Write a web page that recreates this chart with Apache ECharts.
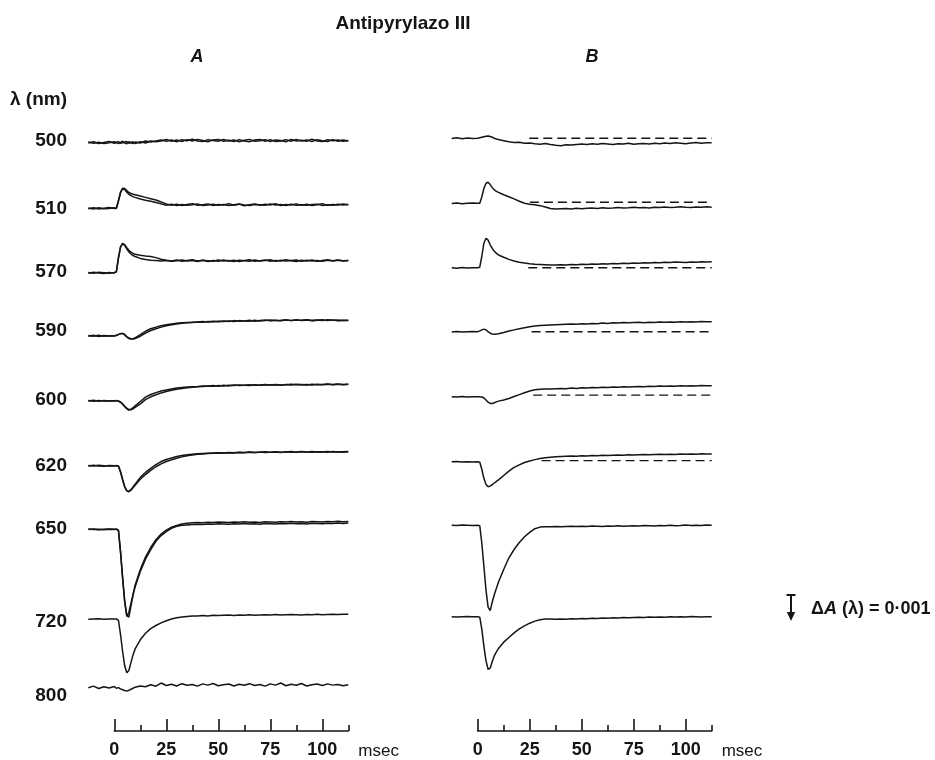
<!DOCTYPE html>
<html>
<head>
<meta charset="utf-8">
<script src="https://cdn.jsdelivr.net/npm/echarts@6/dist/echarts.min.js"></script>
<style>
  html, body { margin: 0; padding: 0; background: #fff; }
  #chart { width: 935px; height: 760px; }
</style>
</head>
<body>
<div id="chart"></div>
<script>
// Absorbance changes of Antipyrylazo III after a stimulus at t = 0.
// Values are ΔA in units of 0.001 (positive = absorbance increase, drawn downward).

const timeMs = [-12.5, -10, -7.5, -5, -2.5,
  0, 1, 2, 3, 4, 5, 6, 7, 8, 9, 10,
  12.5, 15, 17.5, 20, 22.5,
  25, 27.5, 30, 32.5, 35, 37.5, 40, 42.5, 45,
  47.5, 50, 52.5, 55, 57.5, 60, 62.5, 65, 67.5,
  70, 72.5, 75, 77.5, 80, 82.5, 85, 87.5, 90,
  92.5, 95, 97.5, 100, 102.5, 105, 107.5, 110, 112.5];

const wavelengths = [500, 510, 570, 590, 600, 620, 650, 720, 800];
const majorTicks = [0, 25, 50, 75, 100];
const minorTicks = [12.5, 37.5, 62.5, 87.5, 112.5];
const scaleBarDeltaA = 1; // 0.001

// ---- Panel A: superimposed records ----
const a500_1 = [0.02, -0.03, 0.04, 0.00, -0.04,
  0.03, -0.02, 0.04, 0.00, -0.05, 0.02, 0.05, -0.03, 0.01, 0.04, -0.02,
  0.02, -0.06, -0.02, -0.06, -0.10,
  -0.05, -0.10, -0.03, -0.11, -0.07, -0.13, -0.06, -0.04, -0.11,
  -0.08, -0.05, -0.12, -0.06, -0.10, -0.03, -0.09, -0.12, -0.05,
  -0.07, -0.11, -0.04, -0.10, -0.08, -0.03, -0.12, -0.06, -0.09,
  -0.05, -0.13, -0.06, -0.04, -0.11, -0.07, -0.10, -0.05, -0.08];
const a500_2 = [-0.02, 0.03, -0.01, 0.04, 0.01,
  -0.03, 0.02, -0.04, 0.03, 0.01, -0.02, -0.04, 0.03, 0.00, -0.03, 0.04,
  -0.03, 0.02, -0.06, -0.03, -0.06,
  -0.12, -0.05, -0.10, -0.04, -0.11, -0.06, -0.12, -0.08, -0.03,
  -0.10, -0.12, -0.05, -0.09, -0.04, -0.11, -0.06, -0.03, -0.10,
  -0.12, -0.05, -0.11, -0.04, -0.06, -0.11, -0.05, -0.12, -0.06,
  -0.10, -0.04, -0.11, -0.07, -0.04, -0.11, -0.05, -0.10, -0.06];
const a510_1 = [0.02, -0.02, 0.03, 0.00, -0.03,
  0.01, 0.00, -0.30, -0.62, -0.77, -0.76, -0.68, -0.61, -0.57, -0.54, -0.52,
  -0.47, -0.42, -0.37, -0.32, -0.24,
  -0.17, -0.12, -0.16, -0.11, -0.15, -0.18, -0.12, -0.14, -0.17,
  -0.11, -0.15, -0.13, -0.18, -0.12, -0.16, -0.10, -0.14, -0.17,
  -0.12, -0.16, -0.13, -0.18, -0.11, -0.15, -0.13, -0.17, -0.12,
  -0.16, -0.11, -0.14, -0.18, -0.12, -0.15, -0.13, -0.17, -0.14];
const a510_2 = [-0.01, 0.03, -0.02, 0.02, 0.01,
  -0.02, 0.01, -0.28, -0.60, -0.76, -0.72, -0.62, -0.54, -0.49, -0.45, -0.42,
  -0.36, -0.31, -0.27, -0.22, -0.17,
  -0.12, -0.16, -0.11, -0.15, -0.12, -0.14, -0.17, -0.11, -0.13,
  -0.16, -0.12, -0.15, -0.11, -0.14, -0.17, -0.13, -0.11, -0.15,
  -0.14, -0.12, -0.17, -0.13, -0.15, -0.11, -0.16, -0.12, -0.14,
  -0.12, -0.15, -0.16, -0.11, -0.14, -0.12, -0.16, -0.13, -0.15];
const a570_1 = [0.02, -0.02, 0.01, 0.03, -0.01,
  0.01, -0.05, -0.60, -1.00, -1.13, -1.08, -0.96, -0.86, -0.79, -0.74, -0.71,
  -0.67, -0.64, -0.62, -0.58, -0.52,
  -0.48, -0.45, -0.49, -0.44, -0.47, -0.50, -0.45, -0.48, -0.43,
  -0.47, -0.44, -0.49, -0.45, -0.48, -0.43, -0.47, -0.50, -0.44,
  -0.46, -0.49, -0.44, -0.47, -0.45, -0.50, -0.46, -0.43, -0.48,
  -0.45, -0.49, -0.44, -0.47, -0.50, -0.45, -0.48, -0.46, -0.47];
const a570_2 = [-0.01, 0.02, -0.02, 0.00, 0.02,
  -0.01, -0.03, -0.55, -0.97, -1.12, -1.05, -0.92, -0.80, -0.72, -0.66, -0.62,
  -0.55, -0.51, -0.48, -0.47, -0.45,
  -0.47, -0.44, -0.46, -0.49, -0.45, -0.47, -0.43, -0.48, -0.46,
  -0.44, -0.49, -0.45, -0.47, -0.43, -0.48, -0.46, -0.44, -0.49,
  -0.45, -0.47, -0.50, -0.44, -0.48, -0.45, -0.47, -0.49, -0.44,
  -0.48, -0.45, -0.47, -0.44, -0.48, -0.46, -0.49, -0.45, -0.47];
const a590_1 = [0.02, -0.02, 0.03, -0.01, 0.01,
  0.00, -0.02, -0.05, -0.08, -0.08, -0.03, 0.05, 0.11, 0.13, 0.12, 0.08,
  -0.04, -0.17, -0.27, -0.33, -0.38,
  -0.42, -0.45, -0.48, -0.50, -0.51, -0.52, -0.53, -0.55, -0.53,
  -0.56, -0.54, -0.57, -0.55, -0.58, -0.56, -0.57, -0.59, -0.56,
  -0.58, -0.60, -0.57, -0.59, -0.57, -0.60, -0.58, -0.61, -0.58,
  -0.60, -0.57, -0.59, -0.61, -0.58, -0.60, -0.57, -0.59, -0.58];
const a590_2 = [-0.01, 0.02, -0.02, 0.02, 0.00,
  0.01, -0.01, -0.04, -0.07, -0.09, -0.05, 0.03, 0.09, 0.12, 0.13, 0.11,
  0.02, -0.10, -0.20, -0.27, -0.33,
  -0.38, -0.42, -0.45, -0.48, -0.50, -0.51, -0.53, -0.52, -0.55,
  -0.54, -0.56, -0.55, -0.57, -0.55, -0.58, -0.57, -0.56, -0.59,
  -0.57, -0.58, -0.60, -0.58, -0.59, -0.61, -0.58, -0.60, -0.59,
  -0.61, -0.59, -0.60, -0.58, -0.61, -0.59, -0.60, -0.58, -0.59];
const a600_1 = [0.01, -0.02, 0.02, -0.01, 0.01,
  0.00, 0.00, 0.02, 0.06, 0.14, 0.23, 0.31, 0.36, 0.33, 0.27, 0.20,
  0.03, -0.14, -0.24, -0.31, -0.37,
  -0.41, -0.45, -0.49, -0.51, -0.53, -0.54, -0.55, -0.57, -0.56,
  -0.58, -0.56, -0.59, -0.57, -0.60, -0.58, -0.59, -0.61, -0.59,
  -0.60, -0.62, -0.60, -0.61, -0.59, -0.62, -0.60, -0.63, -0.61,
  -0.62, -0.60, -0.63, -0.61, -0.64, -0.62, -0.63, -0.61, -0.63];
const a600_2 = [-0.01, 0.02, -0.01, 0.01, 0.00,
  0.01, -0.01, 0.01, 0.05, 0.12, 0.21, 0.29, 0.34, 0.35, 0.31, 0.26,
  0.12, -0.04, -0.15, -0.23, -0.30,
  -0.35, -0.40, -0.44, -0.47, -0.50, -0.52, -0.54, -0.55, -0.57,
  -0.56, -0.58, -0.57, -0.59, -0.58, -0.60, -0.59, -0.58, -0.61,
  -0.59, -0.61, -0.60, -0.62, -0.60, -0.61, -0.63, -0.61, -0.62,
  -0.60, -0.63, -0.61, -0.62, -0.63, -0.61, -0.64, -0.62, -0.63];
const a620_1 = [0.01, -0.02, 0.01, 0.02, -0.01,
  0.00, 0.00, 0.02, 0.25, 0.55, 0.82, 0.97, 1.00, 0.92, 0.82, 0.71,
  0.45, 0.26, 0.10, -0.04, -0.16,
  -0.24, -0.30, -0.35, -0.39, -0.42, -0.44, -0.46, -0.47, -0.48,
  -0.49, -0.50, -0.49, -0.51, -0.50, -0.52, -0.51, -0.53, -0.51,
  -0.52, -0.54, -0.52, -0.53, -0.51, -0.54, -0.52, -0.53, -0.55,
  -0.53, -0.52, -0.54, -0.53, -0.55, -0.53, -0.54, -0.52, -0.54];
const a620_2 = [-0.01, 0.01, -0.02, 0.00, 0.01,
  0.01, -0.01, 0.01, 0.22, 0.52, 0.80, 0.96, 0.99, 0.94, 0.85, 0.75,
  0.52, 0.34, 0.18, 0.04, -0.07,
  -0.16, -0.23, -0.29, -0.34, -0.38, -0.41, -0.44, -0.45, -0.47,
  -0.48, -0.49, -0.48, -0.50, -0.49, -0.51, -0.50, -0.52, -0.51,
  -0.53, -0.51, -0.52, -0.54, -0.52, -0.53, -0.55, -0.52, -0.54,
  -0.53, -0.55, -0.53, -0.54, -0.52, -0.55, -0.53, -0.54, -0.55];
const a650_1 = [0.01, -0.01, 0.02, 0.00, -0.01,
  0.00, 0.00, 0.05, 0.90, 1.90, 2.80, 3.35, 3.20, 2.85, 2.50, 2.22,
  1.62, 1.15, 0.78, 0.46, 0.24,
  0.09, -0.04, -0.12, -0.16, -0.17, -0.18, -0.19, -0.18, -0.20,
  -0.19, -0.21, -0.20, -0.19, -0.21, -0.20, -0.22, -0.20, -0.21,
  -0.19, -0.22, -0.21, -0.20, -0.22, -0.21, -0.23, -0.21, -0.22,
  -0.20, -0.23, -0.22, -0.21, -0.23, -0.22, -0.24, -0.22, -0.24];
const a650_2 = [-0.01, 0.01, 0.00, 0.02, 0.00,
  0.01, -0.01, 0.03, 0.85, 1.85, 2.75, 3.30, 3.38, 2.95, 2.55, 2.15,
  1.55, 1.07, 0.70, 0.40, 0.18,
  0.03, -0.08, -0.15, -0.20, -0.23, -0.25, -0.26, -0.25, -0.27,
  -0.26, -0.28, -0.27, -0.26, -0.28, -0.27, -0.29, -0.27, -0.28,
  -0.26, -0.29, -0.28, -0.27, -0.29, -0.28, -0.30, -0.28, -0.29,
  -0.27, -0.30, -0.29, -0.28, -0.30, -0.29, -0.31, -0.29, -0.30];
const a720 = [0.01, 0.00, -0.01, 0.01, 0.00,
  0.00, 0.00, 0.05, 0.60, 1.25, 1.80, 2.07, 1.98, 1.68, 1.38, 1.15,
  0.80, 0.55, 0.37, 0.25, 0.15,
  0.07, 0.00, -0.05, -0.08, -0.10, -0.12, -0.12, -0.13, -0.12,
  -0.14, -0.13, -0.14, -0.15, -0.13, -0.15, -0.14, -0.16, -0.14,
  -0.15, -0.16, -0.15, -0.17, -0.15, -0.16, -0.17, -0.16, -0.15,
  -0.17, -0.16, -0.18, -0.16, -0.17, -0.18, -0.17, -0.18, -0.18];
const a800 = [0.03, -0.05, 0.06, -0.02, 0.04,
  -0.03, 0.05, 0.02, 0.08, 0.12, 0.16, 0.19, 0.15, 0.10, 0.05, 0.00,
  -0.06, -0.02, -0.12, -0.05, -0.20,
  -0.08, -0.14, -0.06, -0.17, -0.09, -0.13, -0.05, -0.16, -0.10,
  -0.18, -0.07, -0.12, -0.15, -0.06, -0.14, -0.09, -0.17, -0.08,
  -0.13, -0.05, -0.16, -0.10, -0.20, -0.07, -0.14, -0.09, -0.18,
  -0.06, -0.12, -0.15, -0.08, -0.16, -0.10, -0.13, -0.07, -0.12];

// ---- Panel B: averaged records ----
const b500 = [0.01, -0.02, 0.02, -0.01, 0.01,
  0.00, -0.02, -0.04, -0.06, -0.08, -0.09, -0.07, -0.04, 0.00, 0.03, 0.05,
  0.09, 0.13, 0.16, 0.15, 0.19,
  0.18, 0.21, 0.23, 0.20, 0.24, 0.27, 0.29, 0.25, 0.26,
  0.24, 0.22, 0.24, 0.21, 0.23, 0.20, 0.22, 0.24, 0.21,
  0.22, 0.19, 0.23, 0.21, 0.20, 0.22, 0.19, 0.21, 0.18,
  0.20, 0.17, 0.19, 0.21, 0.18, 0.16, 0.19, 0.17, 0.17];
const b510 = [0.01, -0.01, 0.02, 0.00, -0.01,
  0.00, 0.00, -0.25, -0.58, -0.77, -0.81, -0.72, -0.60, -0.52, -0.46, -0.42,
  -0.33, -0.25, -0.17, -0.08, 0.00,
  0.04, 0.06, 0.09, 0.14, 0.20, 0.22, 0.21, 0.20, 0.22,
  0.19, 0.21, 0.19, 0.18, 0.20, 0.17, 0.19, 0.18, 0.16,
  0.18, 0.17, 0.15, 0.17, 0.16, 0.18, 0.15, 0.16, 0.14,
  0.16, 0.15, 0.13, 0.15, 0.16, 0.14, 0.15, 0.13, 0.15];
const b570 = [0.00, 0.02, -0.01, 0.01, 0.00,
  0.00, -0.02, -0.45, -0.95, -1.13, -1.06, -0.88, -0.74, -0.63, -0.55, -0.49,
  -0.40, -0.32, -0.26, -0.21, -0.18,
  -0.15, -0.13, -0.12, -0.11, -0.10, -0.10, -0.11, -0.10, -0.12,
  -0.11, -0.13, -0.12, -0.14, -0.13, -0.15, -0.14, -0.16, -0.15,
  -0.17, -0.16, -0.18, -0.17, -0.19, -0.18, -0.20, -0.19, -0.21,
  -0.20, -0.22, -0.21, -0.20, -0.22, -0.21, -0.23, -0.22, -0.23];
const b590 = [0.01, -0.01, 0.01, 0.00, -0.01,
  0.00, -0.03, -0.07, -0.10, -0.07, 0.00, 0.06, 0.09, 0.10, 0.09, 0.08,
  0.03, -0.03, -0.07, -0.11, -0.15,
  -0.19, -0.22, -0.24, -0.25, -0.26, -0.27, -0.28, -0.29, -0.30,
  -0.29, -0.31, -0.30, -0.32, -0.31, -0.33, -0.32, -0.34, -0.33,
  -0.35, -0.34, -0.35, -0.36, -0.34, -0.36, -0.35, -0.37, -0.36,
  -0.37, -0.36, -0.38, -0.37, -0.38, -0.37, -0.39, -0.38, -0.38];
const b600 = [0.00, 0.01, -0.01, 0.01, 0.00,
  0.00, 0.00, 0.01, 0.05, 0.13, 0.21, 0.26, 0.26, 0.23, 0.20, 0.17,
  0.13, 0.07, -0.01, -0.08, -0.15,
  -0.22, -0.27, -0.29, -0.30, -0.30, -0.31, -0.32, -0.31, -0.33,
  -0.32, -0.34, -0.33, -0.35, -0.34, -0.36, -0.35, -0.37, -0.36,
  -0.38, -0.37, -0.38, -0.39, -0.38, -0.40, -0.39, -0.41, -0.40,
  -0.41, -0.40, -0.42, -0.41, -0.42, -0.41, -0.43, -0.42, -0.42];
const b620 = [0.00, -0.01, 0.01, 0.00, 0.01,
  0.00, 0.02, 0.30, 0.65, 0.88, 0.96, 0.94, 0.88, 0.82, 0.76, 0.70,
  0.53, 0.36, 0.22, 0.12, 0.03,
  -0.03, -0.08, -0.12, -0.15, -0.17, -0.19, -0.20, -0.21, -0.22,
  -0.21, -0.23, -0.22, -0.24, -0.23, -0.25, -0.24, -0.25, -0.26,
  -0.25, -0.27, -0.26, -0.27, -0.28, -0.27, -0.28, -0.29, -0.28,
  -0.29, -0.28, -0.30, -0.29, -0.30, -0.29, -0.31, -0.30, -0.30];
const b650 = [0.00, 0.01, -0.01, 0.00, 0.01,
  0.00, 0.02, 0.70, 1.60, 2.50, 3.15, 3.28, 2.95, 2.66, 2.42, 2.18,
  1.70, 1.25, 0.93, 0.66, 0.44,
  0.27, 0.13, 0.07, 0.06, 0.06, 0.05, 0.06, 0.05, 0.04,
  0.05, 0.04, 0.05, 0.03, 0.04, 0.05, 0.03, 0.04, 0.02,
  0.04, 0.03, 0.02, 0.03, 0.01, 0.02, 0.03, 0.01, 0.02,
  0.00, 0.02, 0.01, -0.01, 0.01, 0.00, 0.01, -0.01, 0.00];
const b720 = [0.00, 0.01, 0.00, -0.01, 0.00,
  0.00, 0.02, 0.50, 1.15, 1.70, 2.02, 1.98, 1.72, 1.50, 1.35, 1.22,
  0.98, 0.80, 0.62, 0.47, 0.35,
  0.25, 0.17, 0.12, 0.09, 0.09, 0.10, 0.09, 0.10, 0.08,
  0.09, 0.07, 0.08, 0.06, 0.07, 0.05, 0.06, 0.04, 0.05,
  0.03, 0.04, 0.03, 0.02, 0.03, 0.01, 0.02, 0.01, 0.02,
  0.00, 0.01, 0.00, 0.01, -0.01, 0.00, 0.01, 0.00, 0.00];

// Pre-stimulus baselines continued as dashed lines in panel B
const dashWavelengths = [500, 510, 570, 590, 600, 620];
const dashStartMs = [24.8, 25.1, 24.3, 25.9, 26.7, 30.7];
const dashLevel = [0, -0.04, 0, 0, -0.06, -0.04];

const panelA = [[a500_1, a500_2], [a510_1, a510_2], [a570_1, a570_2], [a590_1, a590_2],
  [a600_1, a600_2], [a620_1, a620_2], [a650_1, a650_2], [a720], [a800]];
const panelB = [[b500], [b510], [b570], [b590], [b600], [b620], [b650], [b720]];

// ---- layout ----
const INK = '#151515';
const FONT = '"Liberation Sans", Arial, Helvetica, sans-serif';
const PX_PER_UNIT = 26;           // pixels per 0.001 ΔA
const Y_MIN = -1.5, Y_MAX = 3.5;
const T_MIN = -12.5, T_MAX = 112.5;
const PX_PER_MS = 2.08;
const rowBaseA = [142.5, 208.3, 272.7, 335.7, 400.7, 465.7, 529.3, 619, 695];
const rowBaseB = [138.3, 203.3, 267.7, 331.7, 396.7, 461.7, 525.3, 616.7];
const labelY = [141, 209, 272, 331, 400, 466, 529, 622, 696];
const leftA = 88.3, leftB = 451.7;

const grid = [], xAxis = [], yAxis = [], series = [];

// adds a grid with one x and one y axis; returns the three indices
function addGrid(g, xa, ya) {
  const gi = grid.length;
  grid.push(Object.assign({ containLabel: false }, g));
  xAxis.push(Object.assign({ type: 'value', gridIndex: gi }, xa));
  yAxis.push(Object.assign({ type: 'value', gridIndex: gi }, ya));
  return { g: gi, x: xAxis.length - 1, y: yAxis.length - 1 };
}

function addTraceRow(left, baseY) {
  return addGrid(
    { left: left, top: baseY + Y_MIN * PX_PER_UNIT, width: (T_MAX - T_MIN) * PX_PER_MS,
      height: (Y_MAX - Y_MIN) * PX_PER_UNIT },
    { min: T_MIN, max: T_MAX, show: false },
    { min: Y_MIN, max: Y_MAX, inverse: true, show: false }
  );
}

function traceSeries(ix, values, width) {
  return {
    type: 'line', xAxisIndex: ix.x, yAxisIndex: ix.y,
    data: timeMs.map((t, k) => [t, values[k]]),
    symbol: 'none', silent: true, animation: false,
    lineStyle: { color: INK, width: width }
  };
}

const rowIndexB = {};
panelA.forEach((traces, i) => {
  const ix = addTraceRow(leftA, rowBaseA[i]);
  traces.forEach(v => series.push(traceSeries(ix, v, 1.5)));
});
panelB.forEach((traces, i) => {
  const ix = addTraceRow(leftB, rowBaseB[i]);
  rowIndexB[wavelengths[i]] = ix;
  traces.forEach(v => series.push(traceSeries(ix, v, 1.5)));
});
dashWavelengths.forEach((wl, j) => {
  const ix = rowIndexB[wl];
  series.push({
    type: 'line', xAxisIndex: ix.x, yAxisIndex: ix.y,
    data: [[dashStartMs[j], dashLevel[j]], [T_MAX, dashLevel[j]]],
    symbol: 'none', silent: true, animation: false,
    lineStyle: { color: INK, width: 1.4, type: [9, 5] }
  });
});

// time axes (0–112.5 ms), major and minor ticks on the same grid
function addTimeAxis(left) {
  const g = { left: left, top: 700, width: T_MAX * PX_PER_MS, height: 32.7 };
  const ix = addGrid(g,
    { min: 0, max: T_MAX, position: 'bottom',
      axisLine: { show: true, lineStyle: { color: INK, width: 1.6 } },
      axisTick: { show: true, inside: true, length: 12, customValues: majorTicks,
                  lineStyle: { color: INK, width: 1.6 } },
      axisLabel: { show: true, customValues: majorTicks, margin: 10, color: INK,
                   fontFamily: FONT, fontWeight: 'bold', fontSize: 18 },
      splitLine: { show: false },
      name: 'msec', nameLocation: 'end', nameGap: 10,
      nameTextStyle: { color: INK, fontFamily: FONT, fontSize: 17, verticalAlign: 'top',
                       padding: [12, 0, 0, 0] } },
    { min: 0, max: 1, show: false });
  xAxis.push({
    type: 'value', gridIndex: ix.g, min: 0, max: T_MAX, position: 'bottom',
    axisLine: { show: false },
    axisTick: { show: true, inside: true, length: 6, customValues: minorTicks,
                lineStyle: { color: INK, width: 1.6 } },
    axisLabel: { show: false }, splitLine: { show: false }
  });
}
addTimeAxis(leftA + (0 - T_MIN) * PX_PER_MS);
addTimeAxis(leftB + (0 - T_MIN) * PX_PER_MS);

// calibration bar: ΔA = 0.001 on the same vertical scale as the traces
const bar = addGrid(
  { left: 781, top: 595 + Y_MIN * PX_PER_UNIT, width: 20, height: (Y_MAX - Y_MIN) * PX_PER_UNIT },
  { min: -1, max: 1, show: false },
  { min: Y_MIN, max: Y_MAX, inverse: true, show: false });
series.push({
  type: 'custom', coordinateSystem: 'cartesian2d',
  xAxisIndex: bar.x, yAxisIndex: bar.y,
  silent: true, animation: false,
  data: [[0, 0, scaleBarDeltaA]],
  renderItem: function (params, api) {
    const p0 = api.coord([api.value(0), api.value(1)]);
    const p1 = api.coord([api.value(0), api.value(2)]);
    const head = 9, half = 4.2, cap = 4.5;
    return {
      type: 'group',
      children: [
        { type: 'line', shape: { x1: p0[0] - cap, y1: p0[1], x2: p0[0] + cap, y2: p0[1] },
          style: { stroke: INK, lineWidth: 2 } },
        { type: 'line', shape: { x1: p0[0], y1: p0[1], x2: p1[0], y2: p1[1] - head + 1 },
          style: { stroke: INK, lineWidth: 2 } },
        { type: 'polygon', shape: { points: [[p1[0] - half, p1[1] - head], [p1[0] + half, p1[1] - head], [p1[0], p1[1]]] },
          style: { fill: INK } }
      ]
    };
  }
});

// text
function txt(x, y, text, font, align) {
  return { type: 'text', x: x, y: y, silent: true,
           style: { text: text, font: font, fill: INK, align: align || 'center', verticalAlign: 'middle' } };
}
const graphic = [
  txt(403, 24, 'Antipyrylazo III', 'bold 19px ' + FONT),
  txt(197, 57, 'A', 'italic bold 18px ' + FONT),
  txt(592, 57, 'B', 'italic bold 18px ' + FONT),
  txt(10, 100, 'λ (nm)', 'bold 19px ' + FONT, 'left'),
  {
    type: 'text', x: 811, y: 609, silent: true,
    style: {
      text: '{n|Δ}{i|A}{n| (λ) = 0·001}',
      verticalAlign: 'middle', align: 'left',
      rich: {
        n: { font: 'bold 18px ' + FONT, fill: INK },
        i: { font: 'italic bold 18px ' + FONT, fill: INK }
      }
    }
  }
];
wavelengths.forEach((wl, i) => graphic.push(txt(67, labelY[i], String(wl), 'bold 19px ' + FONT, 'right')));

const chart = echarts.init(document.getElementById('chart'), null, { renderer: 'canvas' });
chart.setOption({
  backgroundColor: '#fff',
  animation: false,
  grid: grid, xAxis: xAxis, yAxis: yAxis,
  series: series,
  graphic: graphic
});
</script>
</body>
</html>
